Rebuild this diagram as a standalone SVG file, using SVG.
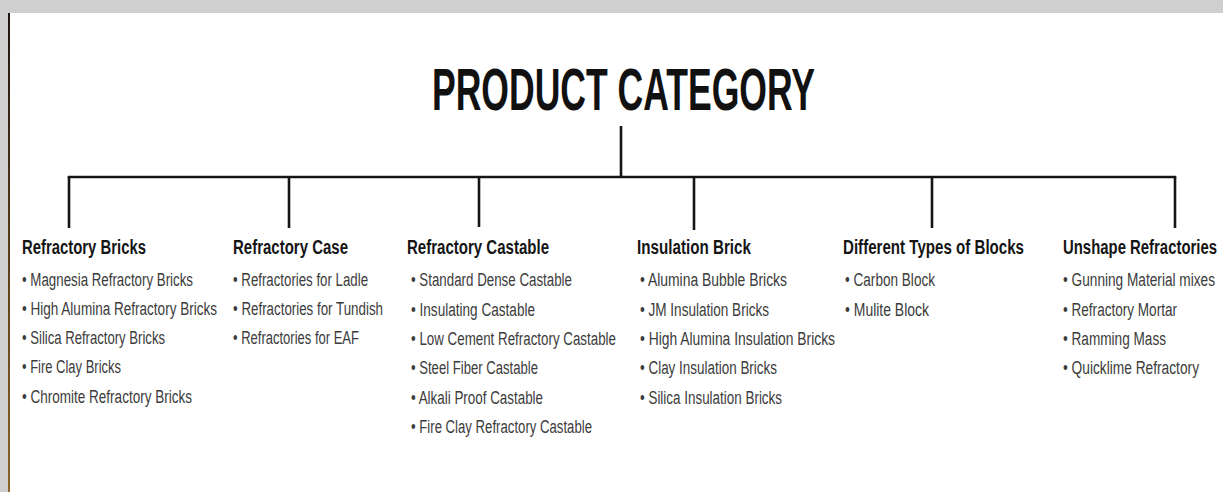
<svg xmlns="http://www.w3.org/2000/svg" width="1223" height="492" viewBox="0 0 1223 492">
  <defs>
    <linearGradient id="edge" x1="0" y1="0" x2="0" y2="1">
      <stop offset="0" stop-color="#1e1410"/>
      <stop offset="0.5" stop-color="#5a3c18"/>
      <stop offset="1" stop-color="#8a6428"/>
    </linearGradient>
    <style>
      .title { font-family: "Liberation Sans", Arial, sans-serif; font-weight: bold; font-size: 59px; fill: #111; }
      .head { font-family: "Liberation Sans", Arial, sans-serif; font-weight: bold; font-size: 19.5px; fill: #151515; }
      .item { font-family: "Liberation Sans", Arial, sans-serif; font-size: 18px; fill: #3c3c3c; }
      .wire { stroke: #151515; stroke-width: 2.6; fill: none; stroke-linecap: butt; }
    </style>
  </defs>

  <!-- page frame -->
  <rect x="0" y="0" width="1223" height="492" fill="#ffffff"/>
  <rect x="0" y="0" width="1223" height="13" fill="#d0cfcf"/>
  <rect x="0" y="13" width="8" height="479" fill="#d0cfcf"/>
  <rect x="8" y="13" width="2" height="479" fill="url(#edge)"/>

  <!-- root -->
  <g id="root">
    <text class="title" x="432" y="110" textLength="383" lengthAdjust="spacingAndGlyphs">PRODUCT CATEGORY</text>
  </g>

  <!-- connectors -->
  <g id="connectors">
    <path class="wire" d="M621 126 V177" stroke-width="2.2"/>
    <path class="wire" d="M67.7 177 H1176.3"/>
    <path class="wire" d="M69 177 V228"/>
    <path class="wire" d="M289 177 V228"/>
    <path class="wire" d="M479 177 V227"/>
    <path class="wire" d="M694 177 V230"/>
    <path class="wire" d="M932 177 V228"/>
    <path class="wire" d="M1175 177 V228"/>
  </g>

  <g id="refractory-bricks">
    <text class="head" x="22" y="254" textLength="124" lengthAdjust="spacingAndGlyphs">Refractory Bricks</text>
    <text class="item" x="22" y="286" textLength="171" lengthAdjust="spacingAndGlyphs">• Magnesia Refractory Bricks</text>
    <text class="item" x="22" y="315" textLength="195" lengthAdjust="spacingAndGlyphs">• High Alumina Refractory Bricks</text>
    <text class="item" x="22" y="344" textLength="143" lengthAdjust="spacingAndGlyphs">• Silica Refractory Bricks</text>
    <text class="item" x="22" y="373" textLength="99" lengthAdjust="spacingAndGlyphs">• Fire Clay Bricks</text>
    <text class="item" x="22" y="403" textLength="170" lengthAdjust="spacingAndGlyphs">• Chromite Refractory Bricks</text>
  </g>

  <g id="refractory-case">
    <text class="head" x="233" y="254" textLength="115" lengthAdjust="spacingAndGlyphs">Refractory Case</text>
    <text class="item" x="233" y="286" textLength="135" lengthAdjust="spacingAndGlyphs">• Refractories for Ladle</text>
    <text class="item" x="233" y="315" textLength="150" lengthAdjust="spacingAndGlyphs">• Refractories for Tundish</text>
    <text class="item" x="233" y="344" textLength="126" lengthAdjust="spacingAndGlyphs">• Refractories for EAF</text>
  </g>

  <g id="refractory-castable">
    <text class="head" x="407" y="254" textLength="142" lengthAdjust="spacingAndGlyphs">Refractory Castable</text>
    <text class="item" x="411" y="286" textLength="161" lengthAdjust="spacingAndGlyphs">• Standard Dense Castable</text>
    <text class="item" x="411" y="316" textLength="124" lengthAdjust="spacingAndGlyphs">• Insulating Castable</text>
    <text class="item" x="411" y="345" textLength="205" lengthAdjust="spacingAndGlyphs">• Low Cement Refractory Castable</text>
    <text class="item" x="411" y="374" textLength="127" lengthAdjust="spacingAndGlyphs">• Steel Fiber Castable</text>
    <text class="item" x="411" y="404" textLength="132" lengthAdjust="spacingAndGlyphs">• Alkali Proof Castable</text>
    <text class="item" x="411" y="433" textLength="181" lengthAdjust="spacingAndGlyphs">• Fire Clay Refractory Castable</text>
  </g>

  <g id="insulation-brick">
    <text class="head" x="637" y="254" textLength="114" lengthAdjust="spacingAndGlyphs">Insulation Brick</text>
    <text class="item" x="640" y="286" textLength="147" lengthAdjust="spacingAndGlyphs">• Alumina Bubble Bricks</text>
    <text class="item" x="640" y="316" textLength="129" lengthAdjust="spacingAndGlyphs">• JM Insulation Bricks</text>
    <text class="item" x="640" y="345" textLength="195" lengthAdjust="spacingAndGlyphs">• High Alumina Insulation Bricks</text>
    <text class="item" x="640" y="374" textLength="137" lengthAdjust="spacingAndGlyphs">• Clay Insulation Bricks</text>
    <text class="item" x="640" y="404" textLength="142" lengthAdjust="spacingAndGlyphs">• Silica Insulation Bricks</text>
  </g>

  <g id="blocks">
    <text class="head" x="843" y="254" textLength="181" lengthAdjust="spacingAndGlyphs">Different Types of Blocks</text>
    <text class="item" x="845" y="286" textLength="90" lengthAdjust="spacingAndGlyphs">• Carbon Block</text>
    <text class="item" x="845" y="316" textLength="84" lengthAdjust="spacingAndGlyphs">• Mulite Block</text>
  </g>

  <g id="unshape-refractories">
    <text class="head" x="1063" y="254" textLength="154" lengthAdjust="spacingAndGlyphs">Unshape Refractories</text>
    <text class="item" x="1063" y="286" textLength="152" lengthAdjust="spacingAndGlyphs">• Gunning Material mixes</text>
    <text class="item" x="1063" y="316" textLength="114" lengthAdjust="spacingAndGlyphs">• Refractory Mortar</text>
    <text class="item" x="1063" y="345" textLength="103" lengthAdjust="spacingAndGlyphs">• Ramming Mass</text>
    <text class="item" x="1063" y="374" textLength="136" lengthAdjust="spacingAndGlyphs">• Quicklime Refractory</text>
  </g>
</svg>
